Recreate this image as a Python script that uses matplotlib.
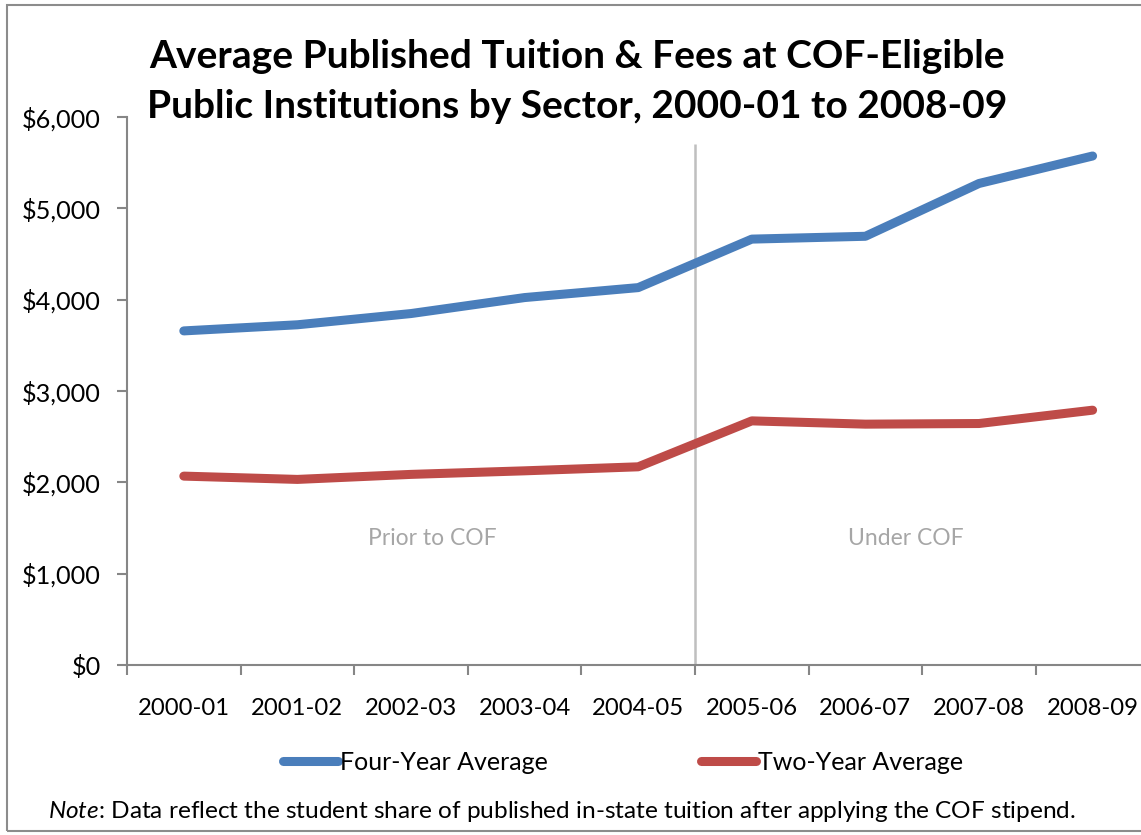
import numpy as np
import matplotlib
matplotlib.use("Agg")
import matplotlib.pyplot as plt
from matplotlib.patches import Rectangle
from matplotlib.ticker import FuncFormatter

plt.rcParams['font.family'] = ['Lato', 'DejaVu Sans']
plt.rcParams['mathtext.fontset'] = 'custom'
plt.rcParams['mathtext.it'] = 'Lato:italic'
plt.rcParams['mathtext.rm'] = 'Lato'

# data
years = ["2000-01", "2001-02", "2002-03", "2003-04", "2004-05",
         "2005-06", "2006-07", "2007-08", "2008-09"]
four_year = [3658, 3725, 3848, 4023, 4132, 4663, 4694, 5272, 5573]
two_year = [2068, 2032, 2087, 2126, 2170, 2673, 2637, 2644, 2790]
region_labels = ["Prior to COF", "Under COF"]
split_after = 5   # COF starts after the 5th category

blue = "#4A7EBB"
red = "#BE4B48"
axis_gray = "#868686"

W, H = 1141, 835
fig = plt.figure(figsize=(W / 100, H / 100), dpi=100)
ax = fig.add_axes([127 / W, 170 / H, 9 * 113.6 / W, 548 / H])

x = np.arange(len(years)) + 0.5
ax.plot(x, four_year, color=blue, lw=6.5, solid_capstyle='round',
        solid_joinstyle='round', label="Four-Year Average", zorder=3)
ax.plot(x, two_year, color=red, lw=6.5, solid_capstyle='round',
        solid_joinstyle='round', label="Two-Year Average", zorder=3)

ax.set_xlim(0, len(years))
ax.set_ylim(0, 6000)
ax.set_yticks(np.arange(0, 6001, 1000))
ax.yaxis.set_major_formatter(FuncFormatter(lambda v, p: f"${v:,.0f}"))

# category labels centred, tick marks between categories
ax.set_xticks(np.arange(len(years) + 1))
ax.set_xticklabels([])
ax.set_xticks(x, minor=True)
ax.set_xticklabels(years, minor=True)
ax.tick_params(axis='x', which='minor', length=0, pad=24, labelsize=17.2)
ax.tick_params(axis='x', which='major', length=7, width=1.5, color=axis_gray)
ax.tick_params(axis='y', length=7, width=1.5, color=axis_gray,
               labelsize=18.2, pad=12)

for s in ['top', 'right']:
    ax.spines[s].set_visible(False)
for s in ['left', 'bottom']:
    ax.spines[s].set_color(axis_gray)
    ax.spines[s].set_linewidth(1.5)

# divider between the two periods
ax.vlines(split_after, 0, 5700, color="#BFBFBF", lw=1.8, zorder=2)
ax.text(2.685, 1390, region_labels[0], ha='center', va='center',
        color="#A6A6A6", fontsize=16.5)
ax.text(6.86, 1390, region_labels[1], ha='center', va='center',
        color="#A6A6A6", fontsize=16.5)

title_lines = ["Average Published Tuition & Fees at COF-Eligible",
               "Public Institutions by Sector, 2000-01 to 2008-09"]
for i, line in enumerate(title_lines):
    fig.text(577 / W, 1 - (56 + 50 * i) / H, line, ha='center', va='center',
             fontsize=28, fontweight='bold')

fig.legend(loc='center', bbox_to_anchor=(623 / W, 1 - 762 / H), ncol=2,
           frameon=False, fontsize=18, handlelength=2.2, handletextpad=0.1,
           columnspacing=6.1)

fig.text(48 / W, 1 - 811 / H,
         r"$\it{Note}$: Data reflect the student share of published in-state "
         "tuition after applying the COF stipend.",
         ha='left', va='center', fontsize=17.6)

fig.patches.append(Rectangle((7 / W, 4 / H), (W + 10) / W, (H - 9) / H,
                             transform=fig.transFigure, fill=False,
                             edgecolor="#8C8C8C", lw=1.5))

fig.savefig("out.png", dpi=100)
